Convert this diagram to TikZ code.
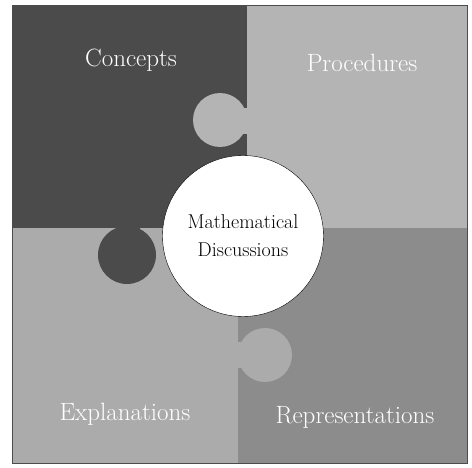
\documentclass[tikz,border=0pt]{standalone}
\usepackage{tikz}
\usetikzlibrary{positioning}
\definecolor{PuzzleDark}{HTML}{4B4B4B}
\definecolor{PuzzleLight}{HTML}{B4B4B4}
\definecolor{PuzzlePale}{HTML}{ABABAB}
\definecolor{PuzzleMid}{HTML}{8C8C8C}

\begin{document}
\begin{tikzpicture}[
    x=1pt,y=-1pt,
    lbl/.style={text=white,font=\fontsize{25}{28}\selectfont},
    hub/.style={circle,draw=black,thin,fill=white,minimum size=161pt,align=center,
      font=\fontsize{20}{28}\selectfont,inner sep=0pt}
  ]
    \useasboundingbox (0,0) rectangle (472,468);
    % the four quadrants
    \fill[PuzzleDark] (12,5) rectangle (247,228);
    \fill[PuzzleLight] (247,5) rectangle (467,228);
    \fill[PuzzlePale] (12,228) rectangle (238,463);
    \fill[PuzzleMid] (238,228) rectangle (467,463);
    % tabs
    \fill[PuzzleLight] (226,108) rectangle (248,134);
    \fill[PuzzleLight] (220,120) circle[radius=27];
    \fill[PuzzleDark] (116,226) rectangle (140,250);
    \fill[PuzzleDark] (127,255) circle[radius=29];
    \fill[PuzzlePale] (236,342) rectangle (252,368);
    \fill[PuzzlePale] (265,355) circle[radius=27];
    \draw[black!70,thin] (12,5) rectangle (467,463);
    % labels
    \node[lbl] (concepts) at (131,60) {Concepts};
    \node[lbl] (procedures) at (362,63) {Procedures};
    \node[lbl] (explanations) at (125,414) {Explanations};
    \node[lbl] (representations) at (355,417) {Representations};
    \node[hub] (discussions) at (243,236) {Mathematical\\Discussions};
  \end{tikzpicture}
\end{document}
